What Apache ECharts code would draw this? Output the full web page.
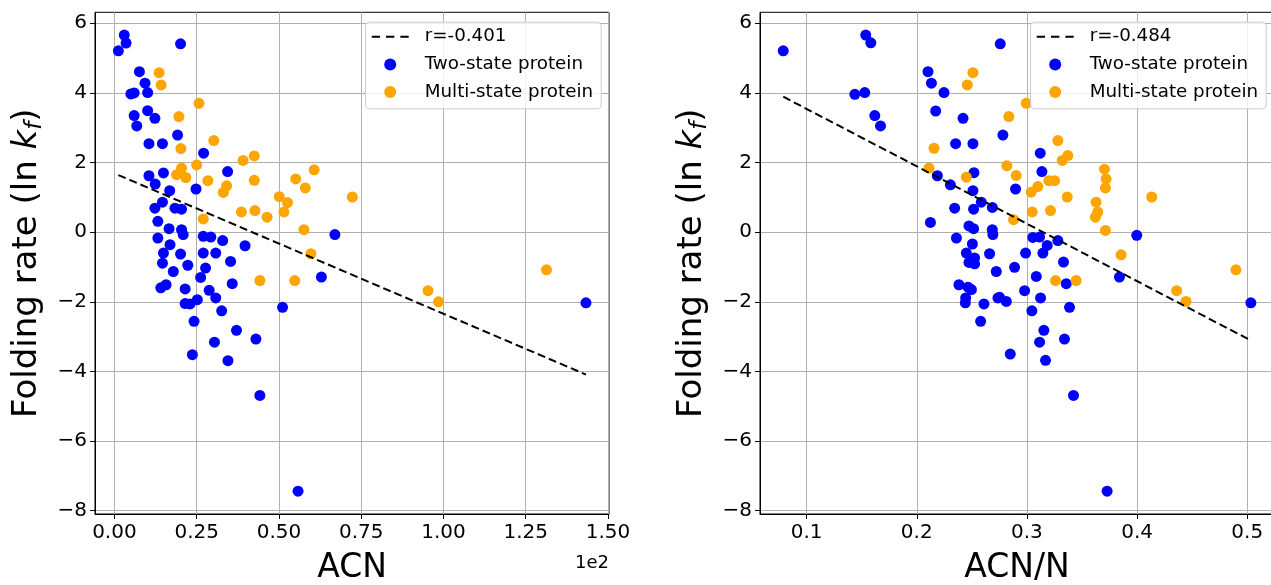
<!DOCTYPE html>
<html>
<head>
<meta charset="utf-8">
<title>Folding rate vs ACN</title>
<script src="https://cdn.jsdelivr.net/npm/echarts@6/dist/echarts.min.js"></script>
<style>
  html, body { margin: 0; padding: 0; background: #fff; }
  #main { width: 1271px; height: 585px; }
</style>
</head>
<body>
<div id="main"></div>
<script>
// ---- data ----
// left panel: x = ACN (axis labels shown in units of 1e2), y = ln kf
let twoAcn = [
  [3.0,5.66],[3.55,5.43],[1.2,5.21],[20.1,5.41],[7.6,4.61],[9.3,4.28],[5.0,3.97],[6.0,4.0],
  [10.1,4.01],[10.1,3.49],[6.0,3.35],[12.3,3.27],[6.8,3.05],[19.2,2.79],[10.5,2.54],[14.6,2.54],
  [27.1,2.27],[34.4,1.74],[10.5,1.62],[14.9,1.70],[12.4,1.38],[16.8,1.19],[24.8,1.24],[14.6,0.86],
  [12.3,0.69],[18.4,0.69],[20.4,0.66],[13.2,0.31],[16.6,0.10],[20.4,0.07],[13.2,-0.17],[20.9,-0.07],
  [27.0,-0.12],[29.3,-0.14],[32.9,-0.24],[39.7,-0.39],[67.0,-0.07],[14.9,-0.60],[16.9,-0.36],[20.1,-0.63],
  [27.0,-0.60],[30.8,-0.60],[35.3,-0.84],[14.6,-0.89],[22.3,-0.95],[27.7,-1.03],[17.9,-1.13],[26.2,-1.30],
  [35.8,-1.48],[14.1,-1.60],[15.7,-1.51],[21.5,-1.63],[28.8,-1.67],[30.8,-1.89],[21.5,-2.05],[23.0,-2.06],
  [25.2,-1.94],[62.9,-1.29],[51.1,-2.16],[32.6,-2.26],[24.2,-2.56],[37.1,-2.82],[43.0,-3.07],[30.4,-3.16],
  [23.7,-3.52],[34.5,-3.69],[44.2,-4.69],[55.8,-7.44],[143.3,-2.03]
];
let multiAcn = [
  [13.6,4.58],[14.2,4.23],[25.7,3.70],[19.6,3.32],[30.2,2.63],[20.2,2.40],[39.1,2.06],[42.5,2.19],
  [25.0,1.93],[20.4,1.84],[18.9,1.65],[21.7,1.57],[28.4,1.48],[42.5,1.49],[60.7,1.79],[55.1,1.53],
  [58.0,1.27],[34.1,1.33],[33.1,1.14],[50.1,1.02],[52.6,0.85],[51.5,0.58],[38.6,0.58],[42.7,0.62],
  [46.4,0.43],[27.0,0.38],[57.6,0.07],[59.7,-0.62],[44.2,-1.39],[54.8,-1.39],[72.3,1.01],[131.3,-1.08],
  [95.3,-1.68],[98.5,-2.00]
];
let fitAcn = [[1.2,1.64],[143.3,-4.09]];

// right panel: x = ACN/N
let twoAcnN = [
  [0.0788,5.21],[0.1537,5.66],[0.1583,5.44],[0.2758,5.41],[0.2102,4.61],[0.2133,4.28],[0.2247,4.01],[0.1438,3.96],
  [0.1528,4.01],[0.2172,3.48],[0.1619,3.35],[0.1671,3.05],[0.2420,3.27],[0.2782,2.79],[0.2353,2.54],[0.2510,2.54],
  [0.2519,1.71],[0.2187,1.62],[0.2305,1.36],[0.2510,1.19],[0.2586,0.86],[0.2686,0.71],[0.2344,0.69],[0.2516,0.66],
  [0.2124,0.28],[0.2474,0.18],[0.2516,0.10],[0.2686,0.07],[0.2691,-0.07],[0.2360,-0.17],[0.2505,-0.34],[0.2450,-0.60],
  [0.2525,-0.74],[0.2661,-0.62],[0.2474,-0.87],[0.2525,-0.91],[0.2722,-1.13],[0.2383,-1.51],[0.2465,-1.58],[0.2496,-1.65],
  [0.2444,-1.89],[0.2441,-2.03],[0.2610,-2.06],[0.2737,-1.89],[0.2580,-2.56],[0.3121,2.27],[0.3136,1.74],[0.2897,1.24],
  [0.3054,-0.15],[0.3115,-0.14],[0.3184,-0.38],[0.3281,-0.24],[0.2988,-0.60],[0.3145,-0.60],[0.2888,-1.01],[0.3332,-0.86],
  [0.3085,-1.27],[0.3357,-1.48],[0.3840,-1.29],[0.2979,-1.68],[0.2752,-1.87],[0.2813,-1.99],[0.3124,-1.89],[0.3045,-2.26],
  [0.3387,-2.16],[0.3997,-0.09],[0.5033,-2.03],[0.3154,-2.82],[0.3115,-3.16],[0.3341,-3.07],[0.2849,-3.50],[0.3169,-3.68],
  [0.3423,-4.69],[0.3728,-7.44]
];
let multiAcnN = [
  [0.2510,4.58],[0.2459,4.23],[0.2157,2.41],[0.2111,1.84],[0.2450,1.58],[0.2836,3.32],[0.2818,1.91],[0.2994,3.70],
  [0.3281,2.63],[0.3321,2.06],[0.3371,2.20],[0.2903,1.63],[0.3199,1.48],[0.3251,1.48],[0.3099,1.31],[0.3039,1.15],
  [0.3366,1.01],[0.3704,1.81],[0.3719,1.53],[0.3713,1.27],[0.4133,1.01],[0.3628,0.86],[0.3643,0.58],[0.3622,0.43],
  [0.3048,0.58],[0.3214,0.62],[0.2879,0.36],[0.3713,0.05],[0.3855,-0.65],[0.3260,-1.39],[0.3447,-1.39],[0.4897,-1.08],
  [0.4359,-1.68],[0.4444,-1.99]
];
let fitAcnN = [[0.0788,3.89],[0.5033,-3.11]];

let legendNames = ['Two-state protein', 'Multi-state protein'];
let rLeft = 'r=-0.401';
let rRight = 'r=-0.484';

// tick values
let yTicks = [-8, -6, -4, -2, 0, 2, 4, 6];
let xTicksAcn = [0, 25, 50, 75, 100, 125, 150];
let xTicksAcnN = [0.1, 0.2, 0.3, 0.4, 0.5];

const FONT = 'DejaVu Sans';
const BLUE = '#0000ff';
const ORANGE = '#ffa500';
// three short dashes, like the matplotlib '--' legend handle
const DASH_ICON = 'path://M0,0h8.3v2h-8.3z M14.2,0h8.3v2h-8.3z M28.4,0h8.3v2h-8.3z';

function minusLabel(v) {
  return v < 0 ? '\u2212' + Math.abs(v) : '' + v;
}

function yAxisFor(idx) {
  return {
    type: 'value',
    gridIndex: idx,
    min: -8.095,
    max: 6.315,
    name: 'Folding rate (ln {k|k}{f|f})',
    nameLocation: 'middle',
    nameGap: 48,
    nameTextStyle: {
      fontFamily: FONT, fontSize: 34, color: '#000', lineHeight: 40,
      rich: {
        k: { fontFamily: FONT, fontSize: 34, fontStyle: 'italic', color: '#000', lineHeight: 40 },
        f: { fontFamily: FONT, fontSize: 23, fontStyle: 'italic', color: '#000', lineHeight: 22, verticalAlign: 'bottom' }
      }
    },
    axisLine: { show: true, onZero: false, lineStyle: { color: '#000', width: 1 } },
    axisTick: { show: true, length: 5, lineStyle: { color: '#000' }, customValues: yTicks },
    axisLabel: { customValues: yTicks, formatter: minusLabel, fontFamily: FONT, fontSize: 20, color: '#000', margin: 8 },
    splitLine: { show: true, lineStyle: { color: '#b0b0b0', width: 1 } }
  };
}

function xAxisFor(idx, min, max, ticks, fmt, name) {
  return {
    type: 'value',
    gridIndex: idx,
    min: min,
    max: max,
    name: name,
    nameLocation: 'middle',
    nameGap: 38,
    nameTextStyle: { fontFamily: FONT, fontSize: 33, color: '#000' },
    axisLine: { show: true, onZero: false, lineStyle: { color: '#000', width: 1 } },
    axisTick: { show: true, length: 5, lineStyle: { color: '#000' }, customValues: ticks },
    axisLabel: { customValues: ticks, formatter: fmt, fontFamily: FONT, fontSize: 20, color: '#000', margin: 9 },
    splitLine: { show: true, lineStyle: { color: '#b0b0b0', width: 1 } }
  };
}

function legendFor(left, rName) {
  return {
    left: left,
    top: 27.7,
    z: 8,
    orient: 'vertical',
    selectedMode: false,
    itemWidth: 37,
    itemHeight: 12,
    itemGap: 9.7,
    padding: 0,
    textStyle: { fontFamily: FONT, fontSize: 18.3, color: '#000', lineHeight: 18, padding: [0, 0, 0, 11] },
    data: [
      { name: rName, icon: DASH_ICON, itemStyle: { color: '#000' } },
      { name: legendNames[0], icon: 'circle' },
      { name: legendNames[1], icon: 'circle' }
    ]
  };
}

// legend frame (matplotlib style box, 0.8 alpha)
function legendBox(left) {
  return {
    type: 'rect', left: left, top: 21.7, z: 7,
    shape: { width: 235.7, height: 86.6, r: 4 },
    style: { fill: 'rgba(255,255,255,0.8)', stroke: '#cccccc', lineWidth: 1 }
  };
}

function fitSeries(name, idx, data) {
  return {
    name: name, type: 'line', xAxisIndex: idx, yAxisIndex: idx,
    data: data, symbol: 'none', silent: true, z: 4,
    itemStyle: { color: '#000' },
    lineStyle: { color: '#000', width: 2, type: [8, 4] }
  };
}

function dotSeries(name, idx, data, color) {
  return {
    name: name, type: 'scatter', xAxisIndex: idx, yAxisIndex: idx,
    data: data, symbol: 'circle', symbolSize: 11, silent: true, z: 3,
    itemStyle: { color: color, opacity: 1 }
  };
}

var chart = echarts.init(document.getElementById('main'), null, { renderer: 'canvas' });
var option = {
  animation: false,
  backgroundColor: '#fff',
  grid: [
    { left: 95, top: 12.3, width: 514, height: 501.7, outerBoundsMode: 'none', show: true, borderColor: '#000', borderWidth: 1, backgroundColor: 'transparent' },
    { left: 760, top: 12.3, width: 514, height: 501.7, outerBoundsMode: 'none', show: true, borderColor: '#000', borderWidth: 1, backgroundColor: 'transparent' }
  ],
  xAxis: [
    xAxisFor(0, -5.9, 150.3, xTicksAcn, function (v) { return (v / 100).toFixed(2); }, 'ACN'),
    xAxisFor(1, 0.0577, 0.5243, xTicksAcnN, function (v) { return v.toFixed(1); }, 'ACN/N')
  ],
  yAxis: [yAxisFor(0), yAxisFor(1)],
  legend: [legendFor(371.7, rLeft), legendFor(1036.7, rRight)],
  graphic: [
    legendBox(365),
    legendBox(1030),
    { type: 'text', right: 662, top: 554, style: { text: '1e2', font: '18px "DejaVu Sans"', fill: '#000' } }
  ],
  series: [
    fitSeries(rLeft, 0, fitAcn),
    dotSeries(legendNames[0], 0, twoAcn, BLUE),
    dotSeries(legendNames[1], 0, multiAcn, ORANGE),
    fitSeries(rRight, 1, fitAcnN),
    dotSeries(legendNames[0], 1, twoAcnN, BLUE),
    dotSeries(legendNames[1], 1, multiAcnN, ORANGE)
  ]
};
chart.setOption(option);
</script>
</body>
</html>
